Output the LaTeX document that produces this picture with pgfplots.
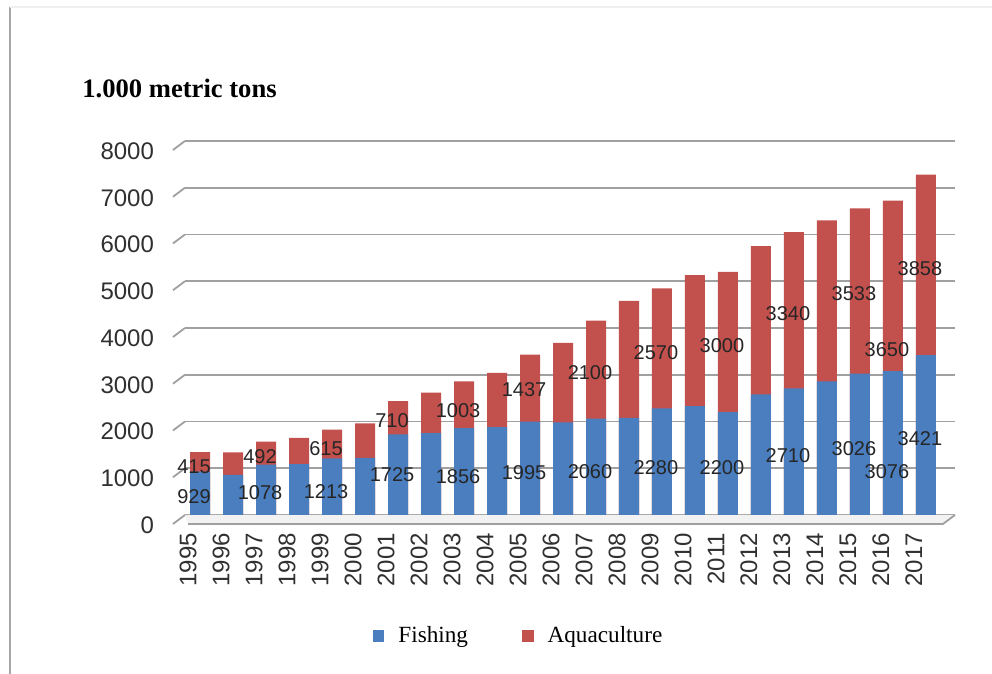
\documentclass[border=0pt]{standalone}
\usepackage{fontspec}
\setmainfont{Liberation Sans}
\newfontfamily\serifnew{Liberation Serif}
\usepackage{pgfplots}
\usepackage{pgfplotstable}
\pgfplotsset{compat=1.18}
\definecolor{fishblue}{HTML}{4A7EBF}
\definecolor{aquared}{HTML}{C2504D}
\definecolor{gridgray}{HTML}{A0A0A0}
\definecolor{tickc}{HTML}{303030}

\pgfplotstableread{
idx fish aqua
0 929 415
1 860 480
2 1078 492
3 1090 560
4 1213 615
5 1220 740
6 1725 710
7 1750 870
8 1856 1003
9 1880 1160
10 1995 1437
11 1980 1700
12 2060 2100
13 2080 2500
14 2280 2570
15 2330 2800
16 2200 3000
17 2580 3170
18 2710 3340
19 2860 3440
20 3026 3533
21 3076 3650
22 3421 3858
}\data

\pgfplotstableread{
idx fl fy al ay
0 929 391 415 1040
2 1078 478 492 1239
4 1213 500 615 1413
6 1725 870 710 2022
8 1856 826 1003 2239
10 1995 913 1437 2674
12 2060 935 2100 3043
14 2280 1022 2570 3478
16 2200 1022 3000 3630
18 2710 1261 3340 4304
20 3026 1413 3533 4739
21 3076 935 3650 3543
22 3421 1630 3858 5261
}\labels

\begin{document}
\begin{tikzpicture}
\useasboundingbox (0,0) rectangle (496pt,337pt);
\draw[gray!70, line width=1pt] (5pt,0) -- (5pt,333.5pt);
\draw[gray!12, line width=0.8pt] (5pt,333.5pt) -- (496pt,333.5pt);
\node[anchor=west, inner sep=0pt, font=\serifnew\bfseries\fontsize{13.3}{15}\selectfont] at (41pt,293pt) {1.000 metric tons};
\begin{axis}[
  at={(92.5pt,79.5pt)}, anchor=south west,
  scale only axis, width=385pt, height=187pt,
  xmin=-0.456, xmax=22.88, ymin=0, ymax=8000,
  clip=false,
  axis line style={draw=none},
  major tick length=0pt,
  ytick={0,1000,...,8000},
  scaled y ticks=false,
  /pgf/number format/set thousands separator={},
  /pgf/number format/assume math mode=true,
  ymajorgrids,
  grid style={gridgray, line width=0.9pt},
  xtick={0,...,22},
  xticklabels={1995,1996,1997,1998,1999,2000,2001,2002,2003,2004,2005,2006,2007,2008,2009,2010,2011,2012,2013,2014,2015,2016,2017},
  yticklabel style={font=\fontsize{12}{14}\selectfont, color=tickc, xshift=-12pt, yshift=-5pt},
  xticklabel style={xshift=-6pt, yshift=-5.5pt, rotate=90, anchor=east, font=\fontsize{12}{14}\selectfont, color=tickc},
  legend image code/.code={\fill[#1, draw=none] (0pt,-2.9pt) rectangle (5.8pt,2.9pt);},
  legend style={at={(0.4345,-0.324)}, anchor=center, draw=none, fill=none,
    legend columns=2, font=\serifnew\fontsize{11.6}{13}\selectfont,
    /tikz/every odd column/.append style={column sep=5pt},
    /tikz/every even column/.append style={column sep=25pt}},
  legend cell align=left,
]
% floor
\fill[gray!10] (axis cs:-0.456,0) -- (axis cs:22.88,0) -- ++(-6pt,-4.5pt) -- ++(-385pt,0) -- cycle;
\draw[gridgray, line width=0.9pt] (axis cs:22.88,0) -- ++(-6pt,-4.5pt) -- ++(-385pt,0);
\pgfplotsinvokeforeach{0,1000,2000,3000,4000,5000,6000,7000,8000}{
  \draw[gridgray, line width=0.9pt] (axis cs:-0.456,#1) -- ++(-6pt,-4.5pt);
}
\addlegendimage{fill=fishblue}
\addlegendentry{Fishing}
\addlegendimage{fill=aquared}
\addlegendentry{Aquaculture}
\addplot[ybar, bar width=10pt, bar shift=0pt, draw=none, fill=aquared, forget plot]
  table[x=idx, y expr=\thisrow{fish}+\thisrow{aqua}] {\data};
\addplot[ybar, bar width=10pt, bar shift=0pt, draw=none, fill=fishblue, forget plot]
  table[x=idx, y=fish] {\data};
\addplot[only marks, mark=none, forget plot, nodes near coords, point meta=explicit symbolic,
  nodes near coords align={center},
  every node near coord/.append style={anchor=center, xshift=-3pt, font=\fontsize{10}{12}\selectfont, text=black!85}]
  table[x=idx, y=fy, meta=fl] {\labels};
\addplot[only marks, mark=none, forget plot, nodes near coords, point meta=explicit symbolic,
  nodes near coords align={center},
  every node near coord/.append style={anchor=center, xshift=-3pt, font=\fontsize{10}{12}\selectfont, text=black!85}]
  table[x=idx, y=ay, meta=al] {\labels};
\end{axis}
\end{tikzpicture}
\end{document}
